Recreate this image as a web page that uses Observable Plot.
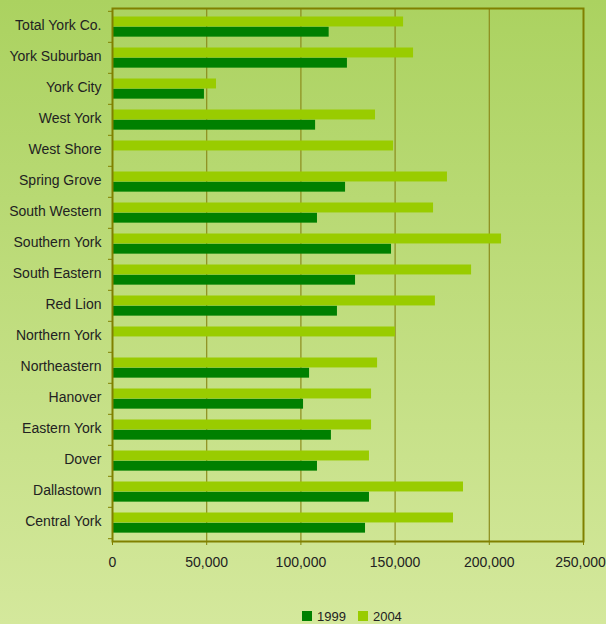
<!DOCTYPE html>
<html>
<head>
<meta charset="utf-8">
<script src="https://cdn.jsdelivr.net/npm/d3@7"></script>
<script src="https://cdn.jsdelivr.net/npm/@observablehq/plot@0.6"></script>
<style>
  html, body { margin: 0; padding: 0; }
  body {
    width: 606px; height: 624px; overflow: hidden;
    background: linear-gradient(to bottom, #abd260, #d4e89c);
    font-family: "Liberation Sans", Arial, sans-serif;
  }
  #legend {
    display: flex; align-items: center; height: 24px; margin-top: 4px;
    margin-left: 302px; font-size: 13px; color: #222;
  }
  #legend .sw { width: 10px; height: 10px; display: inline-block; margin-right: 5px; }
  #legend .item { display: flex; align-items: center; margin-right: 12px; }
</style>
</head>
<body>
<div id="chart"></div>
<div id="legend"></div>
<script>
const categories = ["Total York Co.", "York Suburban", "York City", "West York", "West Shore", "Spring Grove", "South Western", "Southern York", "South Eastern", "Red Lion", "Northern York", "Northeastern", "Hanover", "Eastern York", "Dover", "Dallastown", "Central York"];
const values1999 = [115000, 124700, 48800, 107800, null, 123700, 108800, 148100, 129000, 119400, null, 104600, 101400, 116200, 108800, 136400, 134300];
const values2004 = [154500, 159800, 55200, 139600, 149200, 177800, 170400, 206500, 190600, 171400, 150200, 140700, 137500, 137500, 136400, 186300, 181000];
const xTicks = [0, 50000, 100000, 150000, 200000, 250000];
const seriesNames = ["1999", "2004"];
const seriesColors = ["#008000", "#99cc00"];

const W = 606, H = 600, mt = 8, mb = 59, ml = 112, mr = 23;
const step = (H - mt - mb) / categories.length;

const rows1999 = categories.map((c, i) => ({cat: c, value: values1999[i]})).filter(d => d.value != null);
const rows2004 = categories.map((c, i) => ({cat: c, value: values2004[i]})).filter(d => d.value != null);

const olive = "#808000";
const fmt = d3.format(",");
const blank = () => "";

const chart = Plot.plot({
  width: W, height: H,
  marginTop: mt, marginBottom: mb, marginLeft: ml, marginRight: mr,
  style: {background: "transparent", fontFamily: "'Liberation Sans', Arial, sans-serif", fontSize: "14px", color: "#222"},
  x: {domain: [0, 250000]},
  y: {domain: categories, padding: 0},
  marks: [
    Plot.ruleX(xTicks.slice(1, -1), {stroke: "#8c8c1c", strokeWidth: 1.2}),
    Plot.barX(rows2004, {x: "value", y: "cat", fill: seriesColors[1], insetTop: 5.5, insetBottom: step - 15.8}),
    Plot.barX(rows1999, {x: "value", y: "cat", fill: seriesColors[0], insetTop: 15.8, insetBottom: step - 26}),
    Plot.frame({stroke: olive, strokeWidth: 2}),
    Plot.axisX({ticks: xTicks, tickFormat: blank, tickSize: 4, stroke: olive, label: null}),
    Plot.axisX({ticks: xTicks.slice(0, -1), tickFormat: fmt, tickSize: 4, tickPadding: 12, stroke: "none", fill: "#222", label: null, fontSize: 14}),
    Plot.axisX({ticks: xTicks.slice(-1), tickFormat: fmt, tickSize: 4, tickPadding: 12, stroke: "none", fill: "#222", label: null, fontSize: 14, dx: -3}),
    Plot.axisY({tickSize: 0, tickPadding: 11, label: null, fill: "#222", fontSize: 14, dy: -1}),
    Plot.axisY({tickSize: 4, tickFormat: blank, dy: -step / 2, stroke: olive, label: null}),
    Plot.axisY({ticks: [categories[categories.length - 1]], tickSize: 4, tickFormat: blank, dy: step / 2, stroke: olive, label: null})
  ]
});
document.getElementById("chart").appendChild(chart);

const legend = document.getElementById("legend");
seriesNames.forEach((name, i) => {
  const item = document.createElement("span");
  item.className = "item";
  const sw = document.createElement("span");
  sw.className = "sw";
  sw.style.background = seriesColors[i];
  item.appendChild(sw);
  item.appendChild(document.createTextNode(name));
  legend.appendChild(item);
});
</script>
</body>
</html>
